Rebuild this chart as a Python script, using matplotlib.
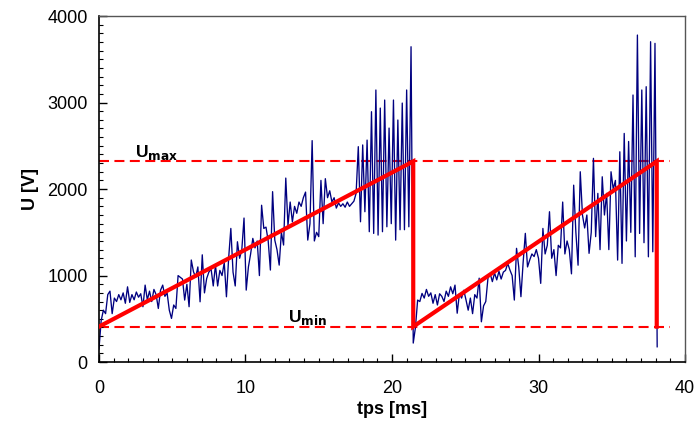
import numpy as np
import matplotlib
matplotlib.use("Agg")
import matplotlib.pyplot as plt
from matplotlib.ticker import MultipleLocator

plt.rcParams['font.family'] = ['Liberation Sans', 'DejaVu Sans']

# sampling step of the measured trace (ms)
dt = 0.15
# measured voltage (V), one value every dt, starting at t = 0
u_meas = [
    150, 480, 600, 560, 780, 820, 560, 740, 700, 780,
    720, 800, 680, 870, 690, 780, 720, 810, 750, 790,
    640, 890, 720, 820, 700, 840, 780, 620, 830, 890,
    760, 800, 600, 505, 660, 620, 1000, 980, 960, 717,
    900, 640, 1180, 1045, 980, 1100, 697, 1240, 800, 966,
    1040, 1080, 880, 1120, 880, 1060, 1000, 1150, 755, 1200,
    1545, 1040, 880, 1391, 1200, 1300, 1665, 832, 1100, 1250,
    1430, 1320, 1400, 1000, 1813, 1545, 1560, 1400, 1064, 1970,
    1410, 1300, 1121, 1500, 1353, 2127, 1580, 1850, 1620, 1800,
    1720, 1850, 1800, 1900, 1965, 1410, 1600, 2560, 1400, 1500,
    1450, 2100, 1600, 2120, 1900, 1980, 1850, 1900, 1780, 1840,
    1800, 1830, 1790, 1850, 1800, 1830, 1860, 1950, 2490, 1622,
    2510, 1738, 2566, 1507, 2894, 1487, 3145, 1468, 2936, 1507,
    3029, 1564, 2705, 1600, 3029, 1410, 2798, 1530, 2994, 1530,
    3145, 1564, 3645, 220, 400, 717, 700, 794, 740, 840,
    760, 800, 680, 780, 660, 790, 760, 700, 820, 760,
    870, 790, 890, 565, 790, 740, 830, 720, 600, 740,
    560, 780, 740, 970, 466, 650, 700, 970, 1024, 930,
    1030, 950, 1050, 960, 1040, 1060, 1141, 1064, 1000, 717,
    1315, 1100, 756, 1150, 1488, 1100, 1180, 1250, 1220, 1300,
    1200, 910, 1545, 1250, 1350, 1738, 1200, 1300, 1000, 1350,
    1320, 1850, 1250, 1400, 1300, 1020, 2045, 1500, 1120, 2200,
    1700, 1550, 1700, 1257, 1500, 2355, 1450, 1950, 1300, 2142,
    1700, 1950, 1300, 2200, 2000, 2100, 1179, 2431, 1141, 2643,
    1400, 2550, 1500, 3087, 1217, 3780, 1487, 3145, 1380, 3183,
    1217, 3703, 1275, 3684, 177,
]
t_meas = np.arange(len(u_meas)) * dt

# idealised sawtooth model
saw_t = [0.0, 21.45, 21.45, 38.07, 38.07]
saw_u = [410, 2320, 410, 2320, 410]
u_max = 2320
u_min = 410
limit_x_end = 39.0

fig = plt.figure(figsize=(6.98, 4.26), dpi=100)
ax = fig.add_axes([0.1418, 0.150, 0.8396, 0.8124])

ax.plot(t_meas, u_meas, color='#000080', lw=0.95, zorder=2)
ax.plot(saw_t, saw_u, color='#FF0000', lw=3.0, zorder=3, solid_joinstyle='miter')
ax.plot([0, limit_x_end], [u_max, u_max], color='#FF0000', lw=1.5,
        dashes=(4.8, 2.6), zorder=1)
ax.plot([0, limit_x_end], [u_min, u_min], color='#FF0000', lw=1.5,
        dashes=(4.8, 2.6), zorder=1)

ax.text(2.45, 2370, r'U$_\mathbf{max}$', fontsize=12.5, fontweight='bold',
        ha='left', va='baseline')
ax.text(12.9, 462, r'U$_\mathbf{min}$', fontsize=12.5, fontweight='bold',
        ha='left', va='baseline')

ax.set_xlim(0, 40)
ax.set_ylim(0, 4000)
ax.xaxis.set_major_locator(MultipleLocator(10))
ax.xaxis.set_minor_locator(MultipleLocator(1))
ax.yaxis.set_major_locator(MultipleLocator(1000))
ax.yaxis.set_minor_locator(MultipleLocator(100))
ax.tick_params(which='both', direction='in', top=False, right=False,
               labelsize=13, colors='black')
ax.tick_params(which='major', length=6, width=1)
ax.tick_params(which='minor', length=3, width=0.8)
ax.tick_params(axis='x', which='major', pad=13)
ax.tick_params(axis='y', which='major', pad=8)

for s in ['left', 'bottom']:
    ax.spines[s].set_color('black')
    ax.spines[s].set_linewidth(1.2)
for s in ['top', 'right']:
    ax.spines[s].set_color('#555555')
    ax.spines[s].set_linewidth(1.0)

ax.set_xlabel('tps [ms]', fontsize=13, fontweight='bold', labelpad=3)
ax.set_ylabel('U [V]', fontsize=13, fontweight='bold', labelpad=6)

fig.savefig('out.png', dpi=100)
